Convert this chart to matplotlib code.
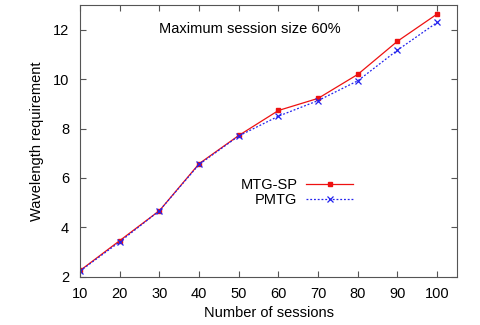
import matplotlib.pyplot as plt

plt.rcParams['font.family'] = ['Liberation Sans', 'DejaVu Sans']

sessions = [10, 20, 30, 40, 50, 60, 70, 80, 90, 100]
mtg_sp = [2.26, 3.47, 4.68, 6.58, 7.72, 8.73, 9.22, 10.19, 11.53, 12.63]
pmtg = [2.24, 3.42, 4.68, 6.55, 7.70, 8.50, 9.13, 9.93, 11.17, 12.29]

fig = plt.figure(figsize=(4.8, 3.25), dpi=100)
ax = fig.add_axes([0.167, 0.148, 0.785, 0.837])

ax.plot(sessions, mtg_sp, color='#ee1111', lw=0.9, marker='s', ms=3.5,
        label='MTG-SP')
ax.plot(sessions, pmtg, color='#2222ee', lw=0.9, ls=(0, (1.5, 1.5)),
        marker='x', ms=4, mew=0.9, label='PMTG')

ax.set_xlim(10, 105)
ax.set_ylim(2, 13)
ax.set_xticks(sessions)
ax.set_yticks([2, 4, 6, 8, 10, 12])
ax.tick_params(direction='in', top=True, right=True, labelsize=10.5,
               length=4, color='#555555')
ax.tick_params(axis='x', pad=7)
ax.tick_params(axis='y', pad=8)
for s in ax.spines.values():
    s.set_color('#555555')

ax.set_xlabel('Number of sessions', fontsize=10.5, labelpad=4)
ax.set_ylabel('Wavelength requirement', fontsize=10.5, labelpad=6)

ax.text(0.45, 0.91, 'Maximum session size 60%', transform=ax.transAxes,
        fontsize=10.5, ha='center', va='center')

ax.legend(loc='center', bbox_to_anchor=(0.575, 0.31), frameon=False,
          markerfirst=False, fontsize=10.5, handlelength=3.2,
          labelspacing=0.05, handletextpad=0.6)

fig.savefig('out.png', dpi=100)
